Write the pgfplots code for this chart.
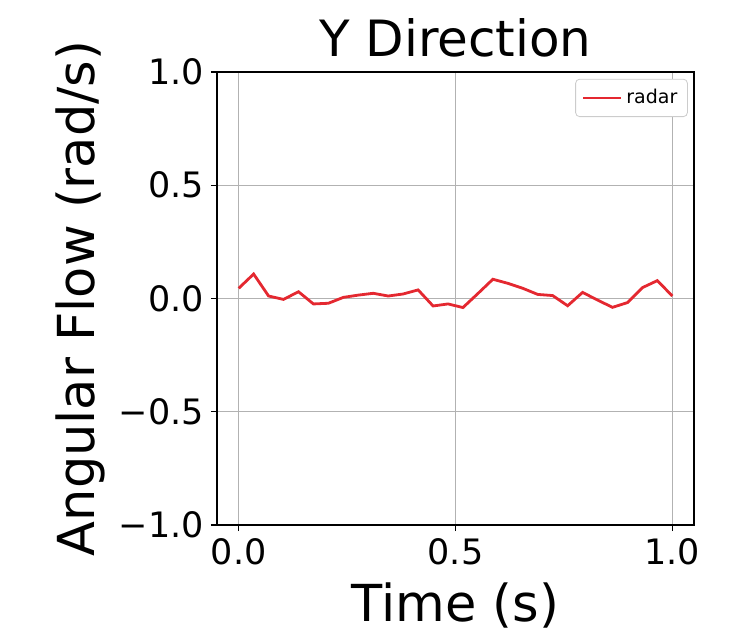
\documentclass[border=0pt]{standalone}
\usepackage{fontspec}
\setmainfont{DejaVu Sans}
\usepackage{pgfplots}
\pgfplotsset{compat=1.18}
\definecolor{radarred}{RGB}{228,40,48}

\pgfplotstableread{
t y
0.0000 0.045
0.0345 0.108
0.0690 0.011
0.1034 -0.004
0.1379 0.030
0.1724 -0.024
0.2069 -0.021
0.2414 0.005
0.2759 0.015
0.3103 0.023
0.3448 0.011
0.3793 0.020
0.4138 0.038
0.4483 -0.033
0.4828 -0.024
0.5172 -0.040
0.5517 0.022
0.5862 0.085
0.6207 0.067
0.6552 0.045
0.6897 0.018
0.7241 0.013
0.7586 -0.032
0.7931 0.027
0.8276 -0.007
0.8621 -0.039
0.8966 -0.018
0.9310 0.048
0.9655 0.079
1.0000 0.011
}\radardata

\begin{document}
\begin{tikzpicture}
\useasboundingbox (-108.5pt,-56.5pt) rectangle (265.5pt,262.5pt);
\begin{axis}[
  at={(0pt,0pt)}, anchor=south west,
  scale only axis,
  width=238.5pt, height=226.5pt,
  xmin=-0.05, xmax=1.05,
  ymin=-1, ymax=1,
  xtick={0,0.5,1}, xticklabels={0.0,0.5,1.0},
  ytick={-1,-0.5,0,0.5,1}, yticklabels={−1.0,−0.5,0.0,0.5,1.0},
  tick label style={font=\fontsize{17.5}{20}\selectfont},
  tick align=outside, major tick length=3pt,
  tick style={black, line width=0.6pt},
  xtick pos=bottom, ytick pos=left,
  axis line style={black, line width=0.7pt},
  grid=major,
  major grid style={black!30, line width=0.5pt},
  title={Y Direction},
  title style={font=\fontsize{25}{28}\selectfont, yshift=-2pt},
  xlabel={Time (s)},
  ylabel={Angular Flow (rad/s)},
  label style={font=\fontsize{25.5}{28}\selectfont},
  xlabel style={yshift=-2pt},
  legend style={font=\fontsize{9.5}{11}\selectfont, at={(0.987,0.985)}, anchor=north east,
    draw=black!20, rounded corners=2pt, inner sep=3pt},
  legend image code/.code={\draw[#1] (0pt,0pt) -- (19pt,0pt);},
  legend cell align=left,
]
\addplot[radarred, line width=1.4pt] table[x=t, y=y] {\radardata};
\addlegendentry{radar}
\end{axis}
\end{tikzpicture}
\end{document}
